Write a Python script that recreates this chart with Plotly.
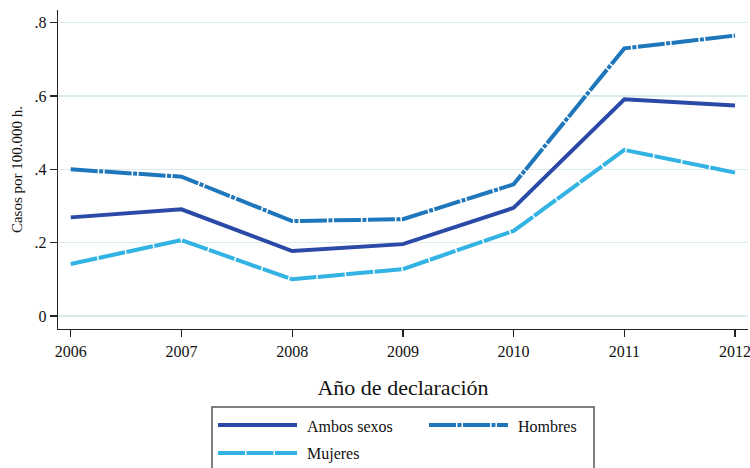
import plotly.graph_objects as go

years = [2006, 2007, 2008, 2009, 2010, 2011, 2012]
ambos = [0.269, 0.291, 0.177, 0.196, 0.295, 0.591, 0.574]
hombres = [0.400, 0.380, 0.259, 0.264, 0.359, 0.730, 0.765]
mujeres = [0.142, 0.207, 0.100, 0.128, 0.232, 0.453, 0.391]

series_names = ["Ambos sexos", "Hombres", "Mujeres"]
ytick_vals = [0, 0.2, 0.4, 0.6, 0.8]
ytick_text = ["0", ".2", ".4", ".6", ".8"]

colors = {"Ambos sexos": "#2b4aa8", "Hombres": "#1f77bb", "Mujeres": "#33b3e3"}
dashes = {"Ambos sexos": "solid", "Hombres": "27px,1.5px,4px,1.5px", "Mujeres": "27px,1.5px"}
values = {"Ambos sexos": ambos, "Hombres": hombres, "Mujeres": mujeres}

FONT = "Liberation Serif"
W, H = 750, 468
L, R, T, B = 58, 2, 10, 139
PW, PH = W - L - R, H - T - B


def px2x(px):
    return (px - L) / PW


def py2y(py):
    return (H - B - py) / PH


fig = go.Figure()
for name in series_names:
    fig.add_trace(go.Scatter(
        x=years, y=values[name], mode="lines", name=name,
        line=dict(color=colors[name], width=4, dash=dashes[name]),
        showlegend=False,
    ))

# Manual legend box (Stata style, two columns)
shapes = [dict(type="rect", xref="paper", yref="paper",
               x0=px2x(212), x1=px2x(594), y0=py2y(407), y1=py2y(480),
               line=dict(color="#555555", width=1.5), fillcolor="white", layer="above")]
annotations = []
legend_pos = {"Ambos sexos": (218, 425), "Hombres": (429, 425), "Mujeres": (218, 453)}
for name in series_names:
    x0, yy = legend_pos[name]
    shapes.append(dict(type="line", xref="paper", yref="paper",
                       x0=px2x(x0), x1=px2x(x0 + 79), y0=py2y(yy), y1=py2y(yy),
                       line=dict(color=colors[name], width=4, dash=dashes[name]), layer="above"))
    annotations.append(dict(xref="paper", yref="paper", x=px2x(x0 + 87), y=py2y(yy + 1),
                            text=name, showarrow=False, xanchor="left", yanchor="middle",
                            font=dict(family=FONT, size=16, color="#111111")))

fig.update_layout(
    width=W, height=H,
    margin=dict(l=L, r=R, t=T, b=B, autoexpand=False),
    paper_bgcolor="white", plot_bgcolor="white",
    font=dict(family=FONT, color="#111111"),
    xaxis=dict(
        range=[2005.885, 2012.117], tickvals=years, ticktext=[str(y) for y in years],
        showgrid=False, zeroline=False, showline=True, linecolor="#222222", linewidth=1.3,
        ticks="outside", ticklen=7, tickwidth=1.3, tickcolor="#222222",
        tickfont=dict(family=FONT, size=16), automargin=False, ticklabeloverflow="allow",
        title=dict(text="Año de declaración", font=dict(family=FONT, size=22), standoff=21),
    ),
    yaxis=dict(
        range=[-0.0355, 0.8347], tickvals=ytick_vals, ticktext=ytick_text,
        showgrid=True, gridcolor="#d9ebeb", gridwidth=1.5, zeroline=False,
        showline=True, linecolor="#222222", linewidth=1.3,
        ticks="outside", ticklen=7, tickwidth=1.3, tickcolor="#222222",
        tickfont=dict(family=FONT, size=16), automargin=False, ticklabeloverflow="allow",
        title=dict(text="Casos por 100.000 h.", font=dict(family=FONT, size=15), standoff=8),
    ),
    shapes=shapes,
    annotations=annotations,
)

fig.write_html(
    "out.html",
    config={"displayModeBar": False, "staticPlot": True},
    post_script="document.body.style.margin='0';document.body.style.overflow='hidden';",
)
